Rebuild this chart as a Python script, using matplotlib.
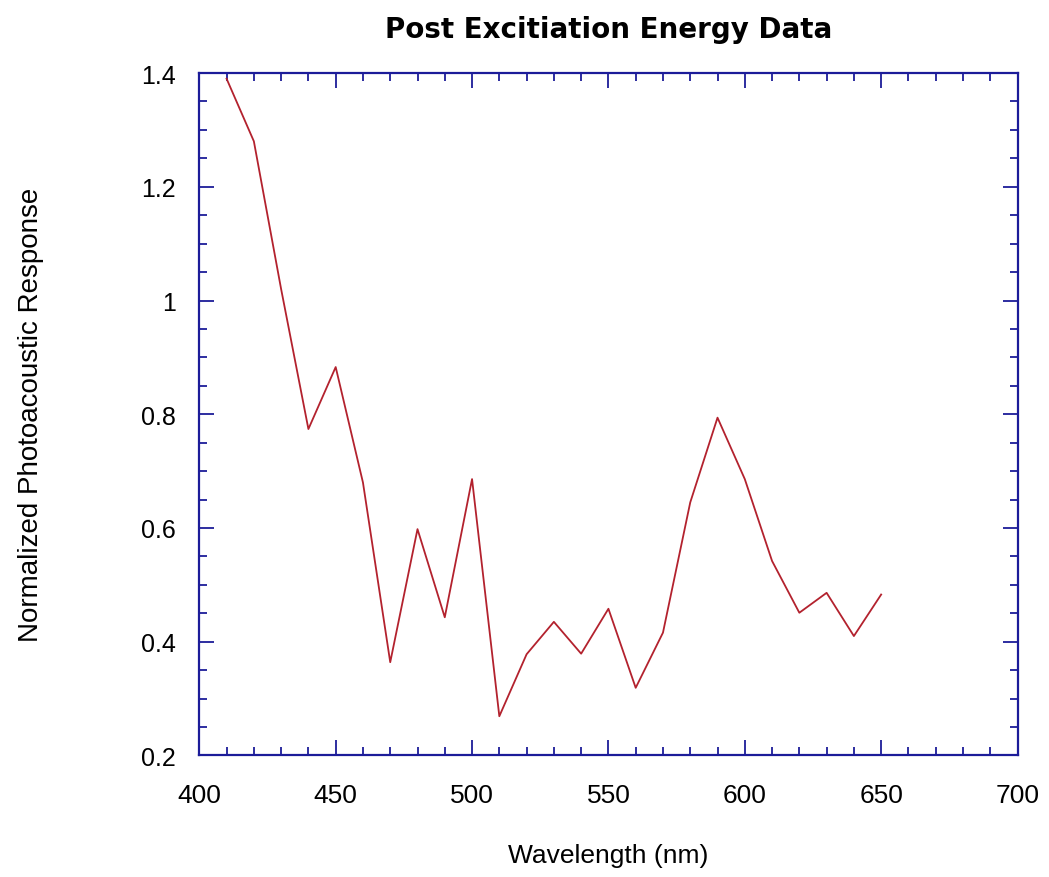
import matplotlib
matplotlib.use("Agg")
import matplotlib.pyplot as plt
from matplotlib.ticker import MultipleLocator

# wavelengths (nm) and normalized photoacoustic response
wavelength = [410, 420, 430, 440, 450, 460, 470, 480, 490, 500, 510, 520, 530,
              540, 550, 560, 570, 580, 590, 600, 610, 620, 630, 640, 650]
response = [1.39, 1.28, 1.02, 0.774, 0.883, 0.68, 0.364, 0.598, 0.443, 0.686,
            0.269, 0.378, 0.435, 0.379, 0.458, 0.319, 0.416, 0.645, 0.794,
            0.686, 0.542, 0.451, 0.486, 0.41, 0.483]

plt.rcParams['font.family'] = ['Liberation Sans', 'DejaVu Sans']

navy = '#1c1c99'

fig = plt.figure(figsize=(10.49, 8.78), dpi=100)
ax = fig.add_axes([0.190, 0.1384, 0.780, 0.7773])

ax.plot(wavelength, response, color='#b3222e', linewidth=1.3)

ax.set_xlim(400, 700)
ax.set_ylim(0.2, 1.4)
ax.xaxis.set_major_locator(MultipleLocator(50))
ax.xaxis.set_minor_locator(MultipleLocator(10))
ax.yaxis.set_major_locator(MultipleLocator(0.2))
ax.yaxis.set_minor_locator(MultipleLocator(0.05))
ax.yaxis.set_major_formatter(plt.FuncFormatter(lambda v, p: f'{v:g}'))

for s in ax.spines.values():
    s.set_color(navy)
    s.set_linewidth(1.6)

ax.tick_params(which='both', direction='in', top=True, right=True, color=navy, width=1.3)
ax.tick_params(which='major', length=11)
ax.tick_params(which='minor', length=6)
ax.tick_params(axis='x', which='major', labelsize=19, pad=20)
ax.tick_params(axis='y', which='major', labelsize=18, pad=17)

ax.set_title('Post Excitiation Energy Data', fontsize=20, fontweight='bold',
             family='DejaVu Sans', pad=26)
ax.set_xlabel('Wavelength (nm)', fontsize=19, labelpad=26)
ax.set_ylabel('Normalized Photoacoustic Response', fontsize=20, labelpad=70)

fig.savefig('out.png', dpi=100)
